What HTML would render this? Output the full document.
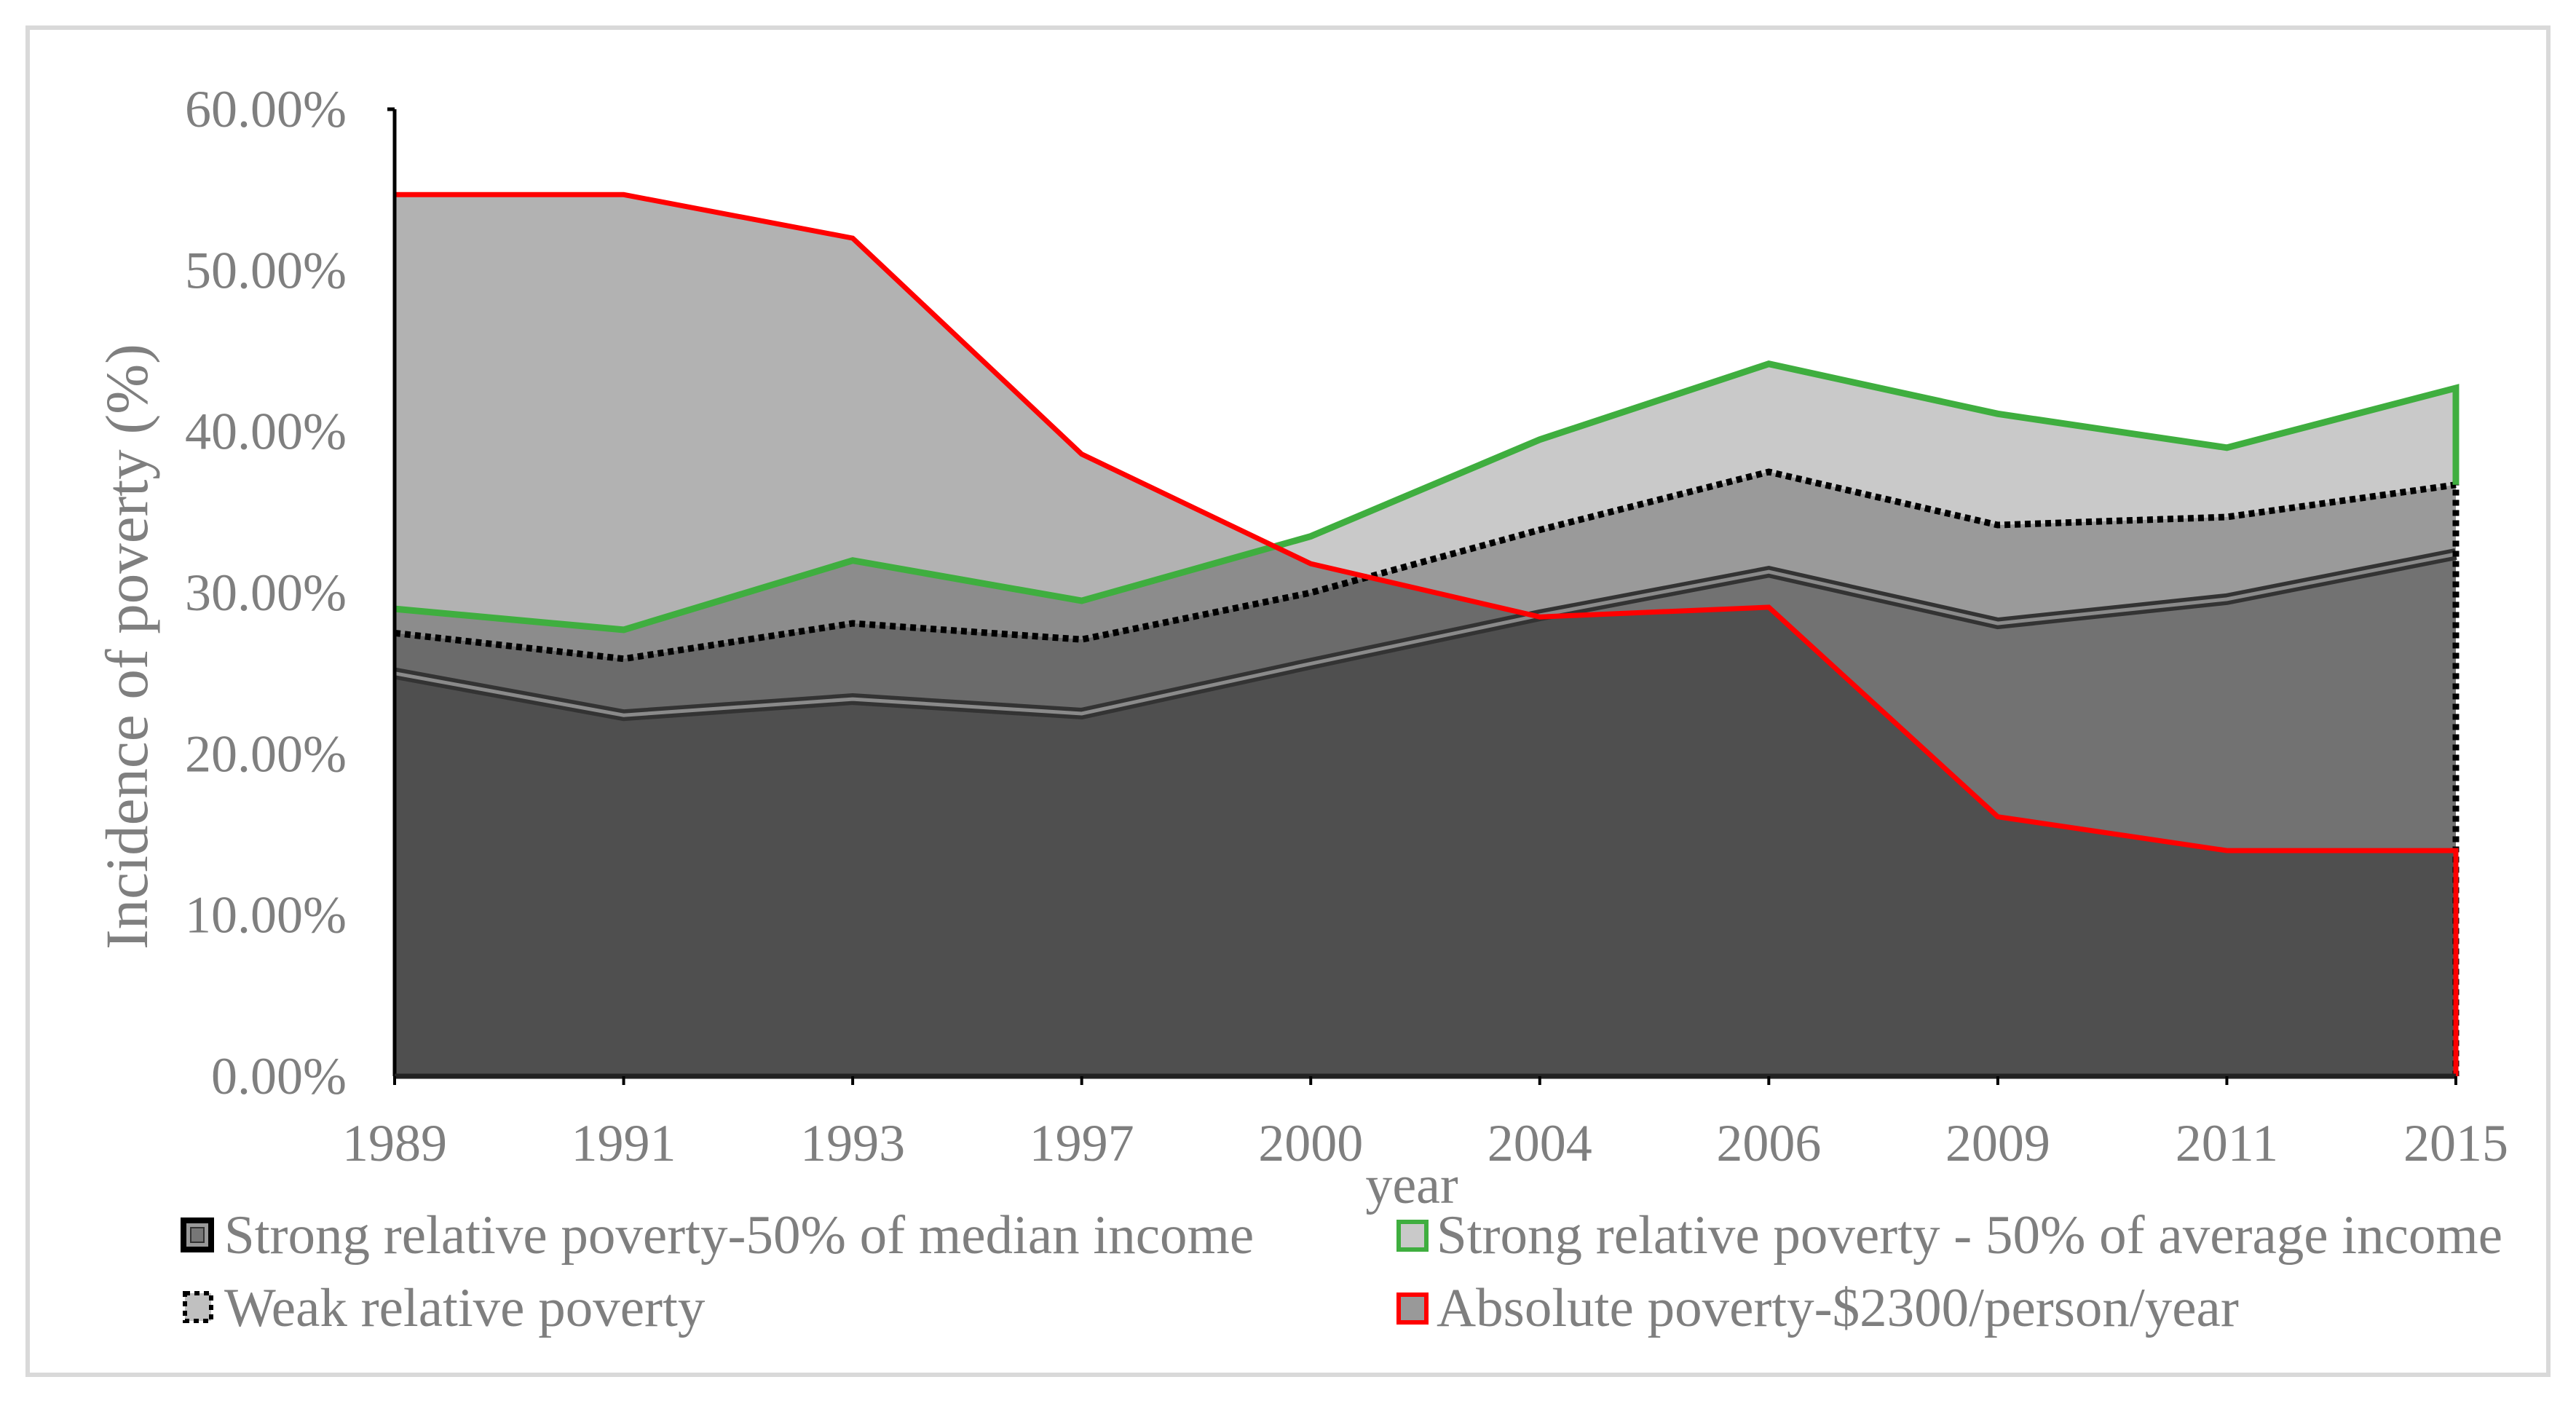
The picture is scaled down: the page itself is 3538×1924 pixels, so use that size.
<!DOCTYPE html>
<html><head><meta charset="utf-8"><style>
html,body{margin:0;padding:0;background:#fff;}
svg{display:block;}
text{font-family:"Liberation Serif",serif;fill:#7f7f7f;}
</style></head><body>
<svg id="chart" width="3538" height="1924" viewBox="0 0 3538 1924" xmlns="http://www.w3.org/2000/svg">
<rect x="38" y="38" width="3462" height="1850" fill="#fff" stroke="#d9d9d9" stroke-width="6"/>
<g id="plot"></g>
<g id="axes"></g>
<text x="0" y="0" font-size="83" text-anchor="middle" transform="translate(202,888) rotate(-90)">Incidence of poverty (%)</text>
<text x="1939" y="1652" font-size="74" text-anchor="middle">year</text>
<g>
 <g>
  <rect x="252" y="1676" width="38" height="40" fill="#999" stroke="#000" stroke-width="8"/>
  <rect x="262" y="1686" width="18" height="20" fill="#777" stroke="#333" stroke-width="2"/>
  <text x="308" y="1721" font-size="75">Strong relative poverty-50% of median income</text>
 </g>
 <g>
  <rect x="1921" y="1678" width="38" height="38" fill="#c9c9c9" stroke="#3fae3f" stroke-width="6"/>
  <text x="1973" y="1721" font-size="75">Strong relative poverty - 50% of average income</text>
 </g>
 <g>
  <rect x="254" y="1776" width="36" height="38" fill="#c0c0c0" stroke="#000" stroke-width="6" stroke-dasharray="7,6"/>
  <text x="308" y="1821" font-size="75">Weak relative poverty</text>
 </g>
 <g>
  <rect x="1921" y="1778" width="38" height="38" fill="#999" stroke="#ff0000" stroke-width="6"/>
  <text x="1973" y="1821" font-size="75">Absolute poverty-$2300/person/year</text>
 </g>
</g>
</svg>
<script>
const years = ["1989","1991","1993","1997","2000","2004","2006","2009","2011","2015"];
const absolutePoverty = [54.7,54.7,52.0,38.6,31.8,28.5,29.1,16.1,14.0,14.0];
const averagePoverty = [29.0,27.7,32.0,29.5,33.5,39.5,44.2,41.1,39.0,42.7];
const weakPoverty = [27.5,25.9,28.1,27.1,30.0,33.9,37.5,34.2,34.7,36.7];
const medianPoverty = [25.0,22.4,23.4,22.5,25.6,28.6,31.3,28.1,29.6,32.4];
const yTicks = [0,10,20,30,40,50,60];
const yTickLabels = ["0.00%","10.00%","20.00%","30.00%","40.00%","50.00%","60.00%"];

const NS="http://www.w3.org/2000/svg";
const X0=542, X1=3373, Y0=1478, Y60=150;
function xs(i){return X0+(X1-X0)*i/(years.length-1);}
function ys(v){return Y0-(Y0-Y60)*v/60;}
const plot=document.getElementById('plot');
const axes=document.getElementById('axes');
function mk(tag,attrs,parent){const e=document.createElementNS(NS,tag);for(const k in attrs)e.setAttribute(k,attrs[k]);parent.appendChild(e);return e;}
function linePts(arr){return arr.map((v,i)=>xs(i)+','+ys(v)).join(' ');}
function areaD(arr){return 'M'+xs(0)+','+Y0+' L'+arr.map((v,i)=>xs(i)+','+ys(v)).join(' L')+' L'+xs(arr.length-1)+','+Y0+' Z';}

function series(arr,name,opacity){
  const a=mk('path',{d:areaD(arr),fill:'#000','fill-opacity':opacity},plot);
  
  
}
series(absolutePoverty,'absolute-poverty',0.30);
series(averagePoverty,'average-poverty',0.21);
series(weakPoverty,'weak-poverty',0.23);
series(medianPoverty,'median-poverty',0.26);

let m1=mk('polyline',{points:linePts(medianPoverty),fill:'none',stroke:'#333','stroke-width':16},plot);


let m2=mk('polyline',{points:linePts(medianPoverty),fill:'none',stroke:'#8a8a8a','stroke-width':5},plot);


let w=mk('polyline',{points:linePts(weakPoverty)+' '+xs(years.length-1)+','+Y0,fill:'none',stroke:'#000','stroke-width':9,'stroke-dasharray':'8,6'},plot);


let g=mk('polyline',{points:linePts(averagePoverty)+' '+xs(years.length-1)+','+ys(weakPoverty[years.length-1]),fill:'none',stroke:'#3fae3f','stroke-width':9},plot);


let r=mk('polyline',{points:linePts(absolutePoverty)+' '+xs(years.length-1)+','+Y0,fill:'none',stroke:'#ff0000','stroke-width':7},plot);



let ya=mk('line',{x1:X0,y1:Y60,x2:X0,y2:Y0,stroke:'#000','stroke-width':5},axes);


let yt=mk('line',{x1:X0-10,y1:Y60,x2:X0,y2:Y60,stroke:'#000','stroke-width':5},axes);


let xa=mk('line',{x1:X0,y1:Y0,x2:X1,y2:Y0,stroke:'#222','stroke-width':7},axes);


yTicks.forEach((v,i)=>{
  const t=mk('text',{x:476,y:ys(v)+24,'font-size':72,'text-anchor':'end'},axes);
  t.textContent=yTickLabels[i];
  
  
});
years.forEach((y,i)=>{
  const tk=mk('line',{x1:xs(i),y1:Y0,x2:xs(i),y2:Y0+12,stroke:'#000','stroke-width':4},axes);
  
  
  const t=mk('text',{x:xs(i),y:1594,'font-size':72,'text-anchor':'middle'},axes);
  t.textContent=y;
  
  
});
</script>
</body></html>
